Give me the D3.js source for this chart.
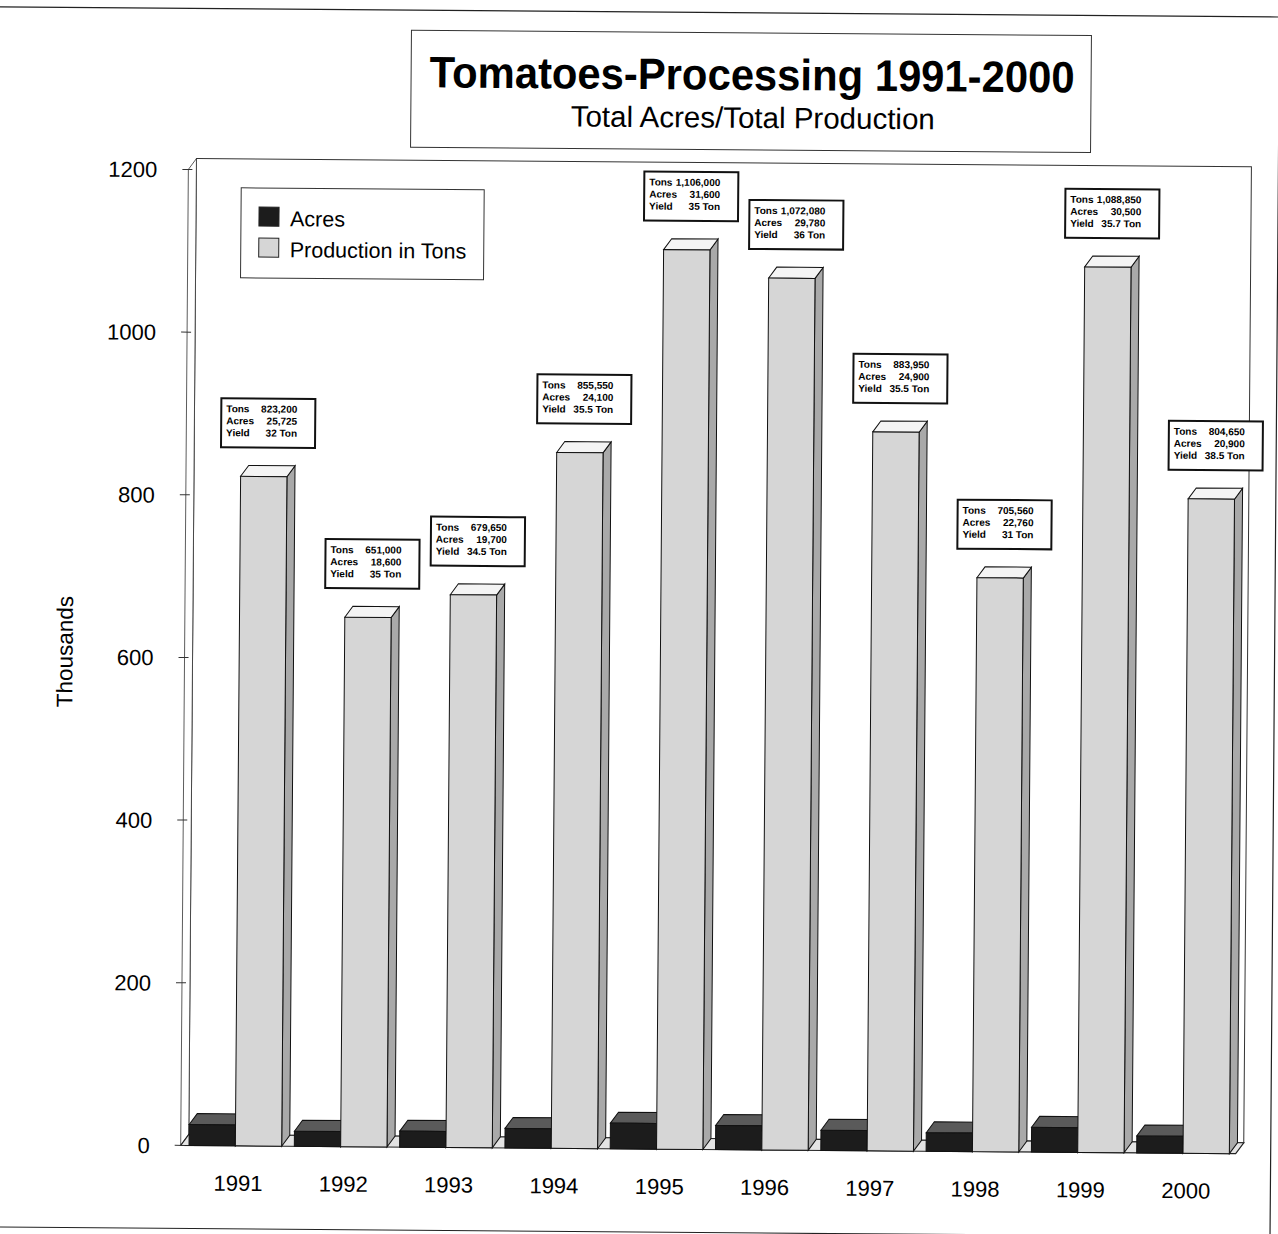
<!DOCTYPE html>
<html>
<head>
<meta charset="utf-8">
<script src="https://cdn.jsdelivr.net/npm/d3@7"></script>
<style>
body { margin: 0; background: #fff; }
text { font-family: "Liberation Sans", Arial, sans-serif; }
.note text { font-family: "Liberation Sans Narrow", "Liberation Sans", Arial, sans-serif; font-weight: bold; font-size: 10px; }
</style>
</head>
<body>
<div id="viz"></div>
<script>
width = 1278;
height = 1234;

years = ["1991","1992","1993","1994","1995","1996","1997","1998","1999","2000"];
tons = [823200, 651000, 679650, 855550, 1106000, 1072080, 883950, 705560, 1088850, 804650];
acres = [25725, 18600, 19700, 24100, 31600, 29780, 24900, 22760, 30500, 20900];
yields = ["32", "35", "34.5", "35.5", "35", "36", "35.5", "31", "35.7", "38.5"];
yTicks = [0, 200, 400, 600, 800, 1000, 1200];
series = ["Acres", "Production in Tons"];

// 3d depth of the bars and floor
dx = 8;
dy = 11;
x0 = 185;
x1 = 1240;

var svg = d3.select("#viz").append("svg")
	.attr("width", width)
	.attr("height", height);

svg.append("rect").attr("width", width).attr("height", height).attr("fill", "#fff");

// the scan is tilted a little
var g = svg.append("g").attr("transform", "rotate(0.45,640,600)");

// page frame
g.append("path")
	.attr("d", "M-20,12 L1275,12 L1275,1232 L-20,1232")
	.attr("fill", "none").attr("stroke", "#222").attr("stroke-width", 1.2);

var x = d3.scaleBand()
	.domain(years)
	.range([187, 1240])
	.paddingInner(0.12)
	.paddingOuter(0.06);

var xs = d3.scaleBand()
	.domain(series)
	.range([0, x.bandwidth()]);

var y = d3.scaleLinear()
	.domain([0, 1200])
	.range([1149, 173]);

// back wall
g.append("rect")
	.attr("x", x0 + dx).attr("y", y(1200) - dy)
	.attr("width", x1 - x0).attr("height", y(0) - y(1200))
	.attr("fill", "#fff").attr("stroke", "#333").attr("stroke-width", 1);

// left wall
g.append("path")
	.attr("d", "M" + x0 + "," + y(0) + "L" + x0 + "," + y(1200) + "L" + (x0 + dx) + "," + (y(1200) - dy) + "L" + (x0 + dx) + "," + (y(0) - dy) + "Z")
	.attr("fill", "#fff").attr("stroke", "#333").attr("stroke-width", 0.8);

// floor
g.append("path")
	.attr("d", "M" + x0 + "," + y(0) + "L" + (x0 + dx) + "," + (y(0) - dy) + "L" + (x1 + dx) + "," + (y(0) - dy) + "L" + x1 + "," + y(0) + "Z")
	.attr("fill", "#e4e4e4").attr("stroke", "#222").attr("stroke-width", 1.2);

// y ticks and labels
g.selectAll(".tick").data(yTicks).enter().append("line")
	.attr("x1", x0 - 6).attr("x2", x0 + 4)
	.attr("y1", function(d) { return y(d); })
	.attr("y2", function(d) { return y(d); })
	.attr("stroke", "#333");

g.selectAll(".ylab").data(yTicks).enter().append("text")
	.attr("x", 154)
	.attr("y", function(d) { return y(d) + 8; })
	.attr("text-anchor", "end")
	.style("font-size", "22px")
	.text(function(d) { return d; });

g.append("text")
	.attr("transform", "translate(73,656) rotate(-90)")
	.attr("text-anchor", "middle")
	.style("font-size", "22.5px")
	.text("Thousands");

// bars
function bar(px, w, v, front, top, side) {
	var bg = g.append("g");
	var yt = y(v), yb = y(0);
	bg.append("path")
		.attr("d", "M" + (px + w) + "," + yb + "L" + (px + w + dx) + "," + (yb - dy) + "L" + (px + w + dx) + "," + (yt - dy) + "L" + (px + w) + "," + yt + "Z")
		.attr("fill", side).attr("stroke", "#111").attr("stroke-width", 1);
	bg.append("path")
		.attr("d", "M" + px + "," + yt + "L" + (px + dx) + "," + (yt - dy) + "L" + (px + w + dx) + "," + (yt - dy) + "L" + (px + w) + "," + yt + "Z")
		.attr("fill", top).attr("stroke", "#111").attr("stroke-width", 1);
	bg.append("rect")
		.attr("x", px).attr("y", yt).attr("width", w).attr("height", yb - yt)
		.attr("fill", front).attr("stroke", "#111").attr("stroke-width", 1);
}

years.forEach(function(yr, i) {
	bar(x(yr) + xs("Acres"), xs.bandwidth(), acres[i] / 1000, "#1c1c1c", "#5a5a5a", "#3a3a3a");
	bar(x(yr) + xs("Production in Tons"), xs.bandwidth(), tons[i] / 1000, "#d6d6d6", "#f4f4f4", "#a9a9a9");
});

// year labels
g.selectAll(".xlab").data(years).enter().append("text")
	.attr("x", function(d) { return x(d) + x.bandwidth() / 2 + 3; })
	.attr("y", 1194)
	.attr("text-anchor", "middle")
	.style("font-size", "22px")
	.text(function(d) { return d; });

// value notes above each production bar
var fmt = d3.format(",");
var bw = 94, bh = 49;
years.forEach(function(yr, i) {
	var cx = x(yr) + xs("Production in Tons") + xs.bandwidth() / 2 + 4;
	var by = y(tons[i] / 1000) - dy - 18 - bh;
	var bx = cx - bw / 2;
	var n = g.append("g").attr("class", "note");
	n.append("rect")
		.attr("x", bx).attr("y", by).attr("width", bw).attr("height", bh)
		.attr("fill", "#fff").attr("stroke", "#111").attr("stroke-width", 2);
	var rows = [["Tons", fmt(tons[i])], ["Acres", fmt(acres[i])], ["Yield", yields[i] + " Ton"]];
	rows.forEach(function(r, j) {
		n.append("text").attr("x", bx + 5).attr("y", by + 14 + j * 12).text(r[0]);
		n.append("text").attr("x", bx + bw - 18).attr("y", by + 14 + j * 12)
			.attr("text-anchor", "end").text(r[1]);
	});
});

// legend
var lg = g.append("g");
lg.append("rect")
	.attr("x", 238).attr("y", 191).attr("width", 243).attr("height", 90)
	.attr("fill", "#fff").attr("stroke", "#333").attr("stroke-width", 1);
var legColors = ["#1c1c1c", "#d6d6d6"];
lg.selectAll(".sw").data(series).enter().append("rect")
	.attr("x", 256)
	.attr("y", function(d, i) { return 210 + i * 31; })
	.attr("width", 20).attr("height", 19)
	.attr("fill", function(d, i) { return legColors[i]; })
	.attr("stroke", "#222");
lg.selectAll(".lt").data(series).enter().append("text")
	.attr("x", 287)
	.attr("y", function(d, i) { return 229 + i * 31; })
	.style("font-size", "21.5px")
	.text(function(d) { return d; });

// title box
g.append("rect")
	.attr("x", 407).attr("y", 32).attr("width", 680).attr("height", 117)
	.attr("fill", "#fff").attr("stroke", "#333").attr("stroke-width", 1);
g.append("text")
	.attr("x", 748).attr("y", 89)
	.attr("text-anchor", "middle")
	.attr("textLength", 645).attr("lengthAdjust", "spacingAndGlyphs")
	.style("font-size", "44px").style("font-weight", "bold")
	.text("Tomatoes-Processing 1991-2000");
g.append("text")
	.attr("x", 749).attr("y", 127)
	.attr("text-anchor", "middle")
	.style("font-size", "29.5px")
	.text("Total Acres/Total Production");
</script>
</body>
</html>
